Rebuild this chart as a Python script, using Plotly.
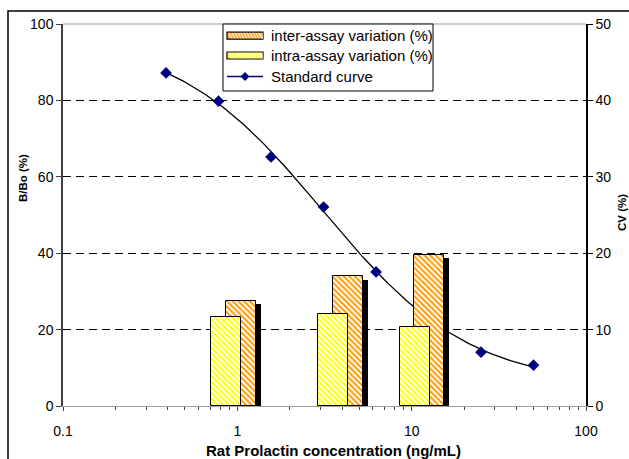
import numpy as np
import plotly.graph_objects as go

# ---- data ----
std_conc = [0.39, 0.78, 1.56, 3.125, 6.25, 25, 50]          # ng/mL
std_bbo = [87.2, 79.8, 65.2, 52.1, 35.1, 14.1, 10.7]         # B/Bo (%)

intra_conc = [0.86, 3.55, 10.4]                              # ng/mL
intra_cv = [11.7, 12.0, 10.3]                                # CV (%)
inter_conc = [1.05, 4.3, 12.6]                               # ng/mL
inter_cv = [13.8, 17.0, 19.8]                                # CV (%)

x_ticks = [0.1, 1, 10, 100]
x_tick_labels = ["0.1", "1", "10", "100"]

legend_labels = ["inter-assay variation (%)", "intra-assay variation (%)", "Standard curve"]

# ---- layout geometry (pixels) ----
W, H = 629, 459
ML, MR, MT, MB = 63, 43, 24, 53
plot_w = W - ML - MR
plot_h = H - MT - MB
px_per_decade = plot_w / 3.0
bar_w = 30 / px_per_decade
cv_per_px = 50.0 / plot_h

FONT = "Liberation Sans, Arial, sans-serif"
ORANGE = "#FF9900"
YELLOW = "#FFFF00"
NAVY = "#000080"


def px(x):
    return (x - ML) / plot_w


def py(y):
    return (H - MB - y) / plot_h


# ---- 4-parameter logistic fit of the standard curve (Levenberg-Marquardt) ----
def four_pl(p, x):
    a, b, c, d = p
    return d + (a - d) / (1.0 + (x / c) ** b)


def fit_4pl(x, y):
    x = np.asarray(x, float)
    y = np.asarray(y, float)
    p = np.array([100.0, 1.0, 3.0, 0.0])
    lam = 1e-2
    for _ in range(500):
        r = y - four_pl(p, x)
        J = np.zeros((len(x), 4))
        for k in range(4):
            dp = np.zeros(4)
            dp[k] = 1e-6 * max(1.0, abs(p[k]))
            J[:, k] = (four_pl(p + dp, x) - four_pl(p, x)) / dp[k]
        A = J.T @ J
        g = J.T @ r
        step = np.linalg.solve(A + lam * np.diag(np.diag(A)), g)
        pn = p + step
        if pn[2] > 0 and np.sum((y - four_pl(pn, x)) ** 2) < np.sum(r ** 2):
            p = pn
            lam *= 0.5
        else:
            lam *= 4.0
    return p


params = fit_4pl(std_conc, std_bbo)
fx = np.logspace(np.log10(min(std_conc)), np.log10(max(std_conc)), 150)
fy = four_pl(params, fx)

fig = go.Figure()

# fitted curve (black)
fig.add_trace(go.Scatter(x=fx, y=fy, mode="lines",
                         line=dict(color="black", width=1.3),
                         showlegend=False, hoverinfo="skip",
                         xaxis="x", yaxis="y"))
# standard points
fig.add_trace(go.Scatter(x=std_conc, y=std_bbo, mode="markers", name=legend_labels[2],
                         marker=dict(symbol="diamond", size=9, color=NAVY,
                                     line=dict(color=NAVY, width=0)),
                         showlegend=False, xaxis="x", yaxis="y"))

# shadow of inter-assay bars
inter_log = np.log10(inter_conc)
fig.add_trace(go.Bar(x=inter_log + 5 / px_per_decade,
                     y=[v - 3.5 * cv_per_px for v in inter_cv],
                     width=bar_w, marker=dict(color="black", line=dict(width=0)),
                     showlegend=False, hoverinfo="skip",
                     xaxis="x2", yaxis="y2"))
# inter-assay bars
fig.add_trace(go.Bar(x=inter_log, y=inter_cv, width=bar_w,
                     name=legend_labels[0], showlegend=False,
                     marker=dict(color=ORANGE,
                                 pattern=dict(shape="\\", fgcolor=ORANGE, bgcolor="white",
                                              size=4, solidity=0.5, fillmode="replace"),
                                 line=dict(color="black", width=1)),
                     xaxis="x2", yaxis="y2"))
# intra-assay bars
fig.add_trace(go.Bar(x=np.log10(intra_conc), y=intra_cv, width=bar_w,
                     name=legend_labels[1], showlegend=False,
                     marker=dict(color=YELLOW,
                                 pattern=dict(shape="\\", fgcolor=YELLOW, bgcolor="white",
                                              size=4, solidity=0.5, fillmode="replace"),
                                 line=dict(color="black", width=1)),
                     xaxis="x2", yaxis="y2"))

tickfont = dict(family=FONT, size=14, color="black")

# ---- custom legend (box, swatches, texts) ----
row_y = [35.7, 55.5, 76.5]
sw_x0, sw_x1 = 227, 263
legend_shapes = [
    dict(type="rect", xref="paper", yref="paper",
         x0=px(223), x1=px(433), y0=py(91), y1=py(24),
         fillcolor="white", line=dict(color="black", width=1), layer="above"),
]
for yy, col in zip(row_y[:2], ["#FFB347", "#FFFF55"]):
    legend_shapes.append(dict(type="rect", xref="paper", yref="paper",
                              x0=px(sw_x0), x1=px(sw_x1), y0=py(yy + 3.5), y1=py(yy - 3.5),
                              fillcolor=col, line=dict(color="black", width=1.2)))
    # hatch strokes on the swatch
    for hx in range(sw_x0 + 2, sw_x1, 3):
        legend_shapes.append(dict(type="line", xref="paper", yref="paper",
                                  x0=px(hx), x1=px(min(hx + 3, sw_x1 - 0.5)),
                                  y0=py(yy - 3), y1=py(yy + 3),
                                  line=dict(color="white", width=0.8)))
legend_shapes.append(dict(type="line", xref="paper", yref="paper",
                          x0=px(sw_x0), x1=px(sw_x1), y0=py(row_y[2]), y1=py(row_y[2]),
                          line=dict(color=NAVY, width=1.3)))
cx, cy, r = (sw_x0 + sw_x1) / 2, row_y[2], 4.5
legend_shapes.append(dict(type="path", xref="paper", yref="paper",
                          path=f"M{px(cx)},{py(cy - r)} L{px(cx + r)},{py(cy)} "
                               f"L{px(cx)},{py(cy + r)} L{px(cx - r)},{py(cy)} Z",
                          fillcolor=NAVY, line=dict(color=NAVY, width=0)))

legend_annots = [
    dict(text=lab, xref="paper", yref="paper", x=px(269), y=py(yy),
         xanchor="left", yanchor="middle", showarrow=False,
         font=dict(family=FONT, size=15, color="black"))
    for lab, yy in zip(legend_labels, row_y)
]

fig.update_layout(
    width=W, height=H,
    margin=dict(l=ML, r=MR, t=MT, b=MB),
    paper_bgcolor="white", plot_bgcolor="white",
    barmode="overlay", bargap=0,
    font=dict(family=FONT, size=14, color="black"),
    showlegend=False,
    xaxis=dict(type="log", range=[-1, 2], tickvals=x_ticks, ticktext=x_tick_labels,
               ticks="outside", ticklen=4, tickcolor="#404040",
               showline=True, linecolor="#A0A0A0", linewidth=1,
               showgrid=False, zeroline=False, tickfont=tickfont,
               ticklabelstandoff=8,
               minor=dict(ticks="outside", ticklen=3, tickcolor="#404040",
                          dtick="D1", showgrid=False)),
    xaxis2=dict(range=[-1, 2], overlaying="x", visible=False, showgrid=False,
                zeroline=False),
    yaxis=dict(range=[0, 100], dtick=20, ticks="outside", ticklen=5,
               tickcolor="#404040",
               showline=True, linecolor="#404040", linewidth=1.5,
               showgrid=True, gridcolor="black", griddash="8px,5px", gridwidth=1,
               zeroline=False, tickfont=tickfont),
    yaxis2=dict(range=[0, 50], dtick=10, overlaying="y", side="right",
                ticks="outside", ticklen=5, tickcolor="black",
                showline=True, linecolor="black", linewidth=1.5,
                showgrid=False, zeroline=False, tickfont=tickfont),
    annotations=[
        dict(text="<b>Rat Prolactin concentration (ng/mL)</b>", xref="paper", yref="paper",
             x=px(333), y=py(450),
             xanchor="center", yanchor="middle", showarrow=False,
             font=dict(family=FONT, size=15, color="black")),
        dict(text="<b>B/Bo (%)</b>", xref="paper", yref="paper",
             x=px(23), y=py(178), textangle=-90,
             xanchor="center", yanchor="middle", showarrow=False,
             font=dict(family=FONT, size=11.5, color="black")),
        dict(text="<b>CV (%)</b>", xref="paper", yref="paper",
             x=px(622), y=py(213), textangle=-90,
             xanchor="center", yanchor="middle", showarrow=False,
             font=dict(family=FONT, size=11.5, color="black")),
    ] + legend_annots,
    shapes=[
        # top border of plot area (gray)
        dict(type="line", xref="paper", yref="paper", x0=0, x1=1, y0=1, y1=1,
             line=dict(color="#A0A0A0", width=1)),
        # outer chart frame
        dict(type="rect", xref="paper", yref="paper",
             x0=px(8), x1=px(W + 20), y0=py(H + 20), y1=py(11),
             line=dict(color="black", width=1.5), fillcolor="rgba(0,0,0,0)"),
    ] + legend_shapes,
)

fig.write_html("out.html", config={"displayModeBar": False},
               post_script="document.body.style.margin='0px';document.body.style.overflow='hidden';")
